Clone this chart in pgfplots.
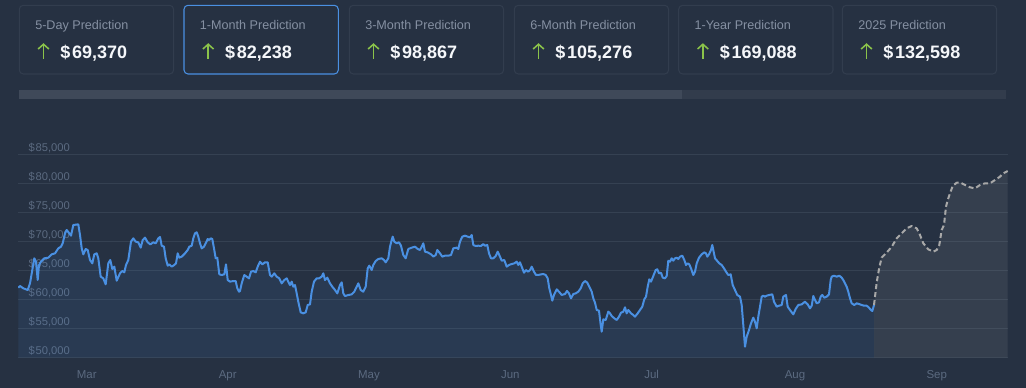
\documentclass[border=0pt]{standalone}
\usepackage{pgfplots}
\pgfplotsset{compat=1.18}
\usepackage{pgfplotstable}
\usetikzlibrary{arrows.meta}
\usepackage{fontspec}
\setmainfont{Liberation Sans}
\definecolor{bg}{HTML}{263142}
\definecolor{cardborder}{HTML}{323D4E}
\definecolor{selborder}{HTML}{4A90E2}
\definecolor{titlegray}{HTML}{8590A2}
\definecolor{upgreen}{HTML}{8BC34A}
\definecolor{valwhite}{HTML}{F5F7FA}
\definecolor{track}{HTML}{323C4C}
\definecolor{thumb}{HTML}{3F4959}
\definecolor{gridc}{HTML}{354152}
\definecolor{ticklab}{HTML}{5B6A80}
\definecolor{histline}{HTML}{4A90E2}
\definecolor{fcline}{HTML}{A8A8A8}
\pagecolor{bg}

\pgfplotstableread{
x v
18.3 62090
20.0 62380
23.3 61980
27.7 61690
30.0 62840
32.3 65140
34.3 67160
36.0 66580
37.7 63420
39.0 66000
41.0 66580
44.3 67160
48.3 67270
51.7 67850
55.0 68020
58.3 68880
61.0 69170
62.7 69750
65.0 71470
66.7 72050
69.3 71470
71.0 71070
73.3 72910
78.3 73030
80.0 71190
81.7 68880
83.3 67850
85.7 68770
87.7 68600
90.0 66870
92.3 66290
94.3 67850
96.7 68020
98.3 67160
100.7 63990
103.3 63700
105.7 62670
108.3 66290
110.3 66870
112.3 65320
114.3 65720
116.7 63300
120.0 64570
122.3 64970
124.3 64740
126.0 66000
128.3 66870
131.0 70040
133.3 70610
135.7 70040
138.3 69920
140.7 69000
142.7 70320
145.0 70730
147.7 69920
150.3 69570
153.3 69920
155.7 69750
158.3 70610
160.0 70840
161.7 69340
164.0 69170
165.7 67160
167.7 65890
169.3 66120
171.7 65720
174.3 66010
176.0 66290
177.7 68020
179.3 67270
181.7 67450
185.0 68020
187.7 68600
189.3 69170
191.7 69340
193.3 70610
195.0 71470
196.7 71650
198.3 70900
200.0 69750
201.7 68880
204.0 69170
205.7 69750
207.7 70490
209.3 70320
210.7 70610
212.3 70490
214.0 68880
215.7 67160
217.3 67270
219.3 64400
221.7 64280
224.3 64400
226.0 66120
227.7 63420
230.0 63130
233.3 63240
235.7 63240
237.3 61980
239.0 61400
240.0 61520
241.7 62840
244.3 64280
246.7 63990
249.0 63700
251.0 64850
253.3 64970
255.7 64740
257.7 65720
260.0 66580
262.3 66120
265.0 66470
267.7 66470
270.0 64280
271.7 63990
274.3 64570
276.7 63990
279.3 63700
281.7 62840
284.3 63410
286.7 63700
288.3 63130
290.0 62550
291.7 63130
293.3 62260
295.0 62550
296.7 61110
298.3 59670
300.7 57830
303.3 57660
305.7 57830
307.7 59100
310.0 59210
311.7 61400
314.0 63130
316.7 63700
319.0 63700
321.7 63990
323.3 64570
325.0 63410
327.3 63820
330.0 62840
332.3 62260
335.0 61690
337.3 61110
340.0 62550
341.7 63010
343.3 61110
345.0 60650
348.3 60820
351.7 60940
354.3 61400
356.7 62260
358.3 62840
360.7 61690
363.3 61400
365.7 62260
367.7 65430
369.3 65890
371.7 65140
373.3 66010
375.7 66700
378.3 67040
381.7 67160
384.0 66870
385.7 66470
388.3 67160
390.0 69170
391.7 70320
392.7 70900
394.3 70035
396.7 69750
399.0 69920
401.0 69340
403.3 67730
405.7 67160
408.3 68770
411.7 69000
415.0 69170
417.7 68770
420.0 68600
421.7 69170
423.3 69750
425.0 68310
427.7 68190
431.0 67850
433.3 67450
435.7 67730
437.3 68600
440.0 68020
442.3 67450
445.0 67620
448.3 67620
451.0 67730
453.3 68880
456.7 69000
458.3 68770
460.0 70040
462.3 70900
465.0 71070
467.7 70900
470.0 70780
471.7 71190
473.3 69460
475.7 69290
478.3 69340
481.0 69290
483.3 69630
485.0 69340
487.3 69460
489.0 68020
491.0 67160
493.3 67160
495.7 67560
497.7 68310
500.0 67450
501.7 66750
504.3 66870
506.7 65720
509.0 66010
511.7 66180
514.3 66290
516.7 66580
518.3 66010
520.0 66470
521.7 65720
524.0 64680
526.0 65140
528.3 64850
530.0 65140
531.7 65720
534.0 64850
536.0 64280
538.3 64280
541.0 64390
543.3 64450
545.7 64280
547.7 63700
549.3 61980
551.0 60830
552.3 59850
554.0 60830
556.7 61800
559.0 61400
561.7 60830
565.0 61000
567.0 61520
569.0 61110
571.0 60250
573.3 61000
575.7 61110
578.3 61400
580.7 61980
582.7 62840
585.0 63240
587.3 62960
589.3 62260
591.7 61400
593.3 60250
595.0 59500
596.7 58240
599.0 58120
600.7 55650
601.7 54490
603.3 56620
605.7 56510
608.3 57950
610.0 57660
611.7 57200
614.3 56800
616.7 56510
619.0 57080
621.0 57770
623.3 57950
625.0 58700
626.7 57660
628.3 58240
631.0 57660
633.3 57370
635.0 57080
637.7 57660
640.0 58240
642.3 58810
644.3 60080
646.0 60540
647.7 62260
649.3 63530
651.0 63130
653.3 64110
655.7 65140
657.3 65260
659.0 64570
661.0 64680
662.7 63820
665.0 63700
666.7 64110
668.3 66750
670.0 66580
671.7 67160
673.3 66750
675.0 67160
676.7 67270
678.3 67040
680.0 67440
682.3 67620
684.3 66870
686.0 66000
687.7 66290
689.3 66120
691.0 65430
693.3 64280
695.0 64850
696.7 66290
699.0 67270
701.7 67850
704.3 68190
706.0 68020
707.3 67440
709.0 67850
711.0 68600
712.3 69460
713.3 68600
715.0 67160
717.3 66700
719.3 66290
721.7 66000
724.0 65430
726.0 64850
728.3 64280
730.7 64390
732.7 62550
735.0 61690
737.3 60820
740.0 60540
741.7 59100
743.3 55640
745.0 51900
746.7 53630
749.0 54780
751.0 55930
753.3 56910
755.0 56220
756.7 55070
758.3 57080
760.0 58810
761.7 60540
763.3 60710
765.0 60540
766.7 60710
769.3 60830
772.3 60940
774.0 59670
776.7 58810
779.0 58980
781.7 59100
783.3 60540
786.0 60830
787.7 58810
790.0 58230
793.3 57490
795.7 58410
798.3 59100
801.7 59210
805.0 59670
807.7 59210
810.0 58520
811.7 58980
813.3 60650
815.0 59960
816.7 59390
819.0 59560
820.7 60540
822.3 60830
824.3 60360
826.7 60540
829.0 60940
830.7 63410
831.7 63990
834.0 64160
836.7 63990
839.3 64160
841.7 63820
843.3 63410
846.7 62260
848.3 61400
850.0 60250
851.7 59390
854.3 59100
856.7 59390
859.0 59270
861.7 59100
864.0 58980
866.7 58980
869.0 58640
871.0 58230
872.3 58060
874.0 59100
}\hist

\pgfplotstableread{
x v
874.0 59100
876.7 63000
879.3 65600
881.7 67300
886.7 68150
891.7 69150
896.7 70610
901.7 71470
906.7 72340
911.7 72740
916.7 72340
920.0 71190
923.3 69750
928.3 68710
933.3 68310
936.7 68600
939.3 69460
941.7 72050
944.0 72910
946.0 76080
947.7 77230
950.0 78380
952.7 79650
956.7 80220
960.7 80220
965.0 79820
970.0 79420
975.0 79240
980.0 79820
985.0 80110
990.0 80110
995.0 80680
1000.0 81260
1003.3 81830
1007.7 82238
}\fc

\newcommand\card[4]{%
  \draw[#4, line width=0.8pt, rounded corners=3pt] (#1,5.3) rectangle ++(154.3,68.7);
  \node[anchor=base west, inner sep=0pt, text=titlegray, font=\fontsize{9.45}{11}\selectfont] at (#1+15.7,30) {#2};
  \draw[upgreen, line width=1.15pt, -{Straight Barb[length=3.6pt, width=8pt, line width=1.15pt]}] (#1+24.2,58.6) -- (#1+24.2,43.2);
  \node[anchor=base west, inner sep=0pt, text=valwhite, font=\bfseries\fontsize{13.5}{15}\selectfont] at (#1+40.9,58.3) {\$\kern1.3pt#3};
}

\begin{document}
\begin{tikzpicture}
\begin{scope}[x=0.75pt,y=-0.75pt]
  \card{19.3}{5-Day Prediction}{69,370}{cardborder}
  \card{184}{1-Month Prediction}{82,238}{selborder}
  \card{349.3}{3-Month Prediction}{98,867}{cardborder}
  \card{514.3}{6-Month Prediction}{105,276}{cardborder}
  \card{678.7}{1-Year Prediction}{169,088}{cardborder}
  \card{842.3}{2025 Prediction}{132,598}{cardborder}
  \fill[track] (19,90) rectangle (1006,99.3);
  \fill[thumb] (19,90) rectangle (681.7,99.3);
\end{scope}
\begin{axis}[
  at={(13.5pt,-268.275pt)}, anchor=south west,
  scale only axis, width=742.5pt, height=152.025pt,
  xmin=18, xmax=1008, ymin=50000, ymax=85000,
  scaled y ticks=false, scaled x ticks=false,
  axis line style={draw=none}, major tick length=0pt,
  set layers,
  ymajorgrids, major grid style={gridc, line width=0.75pt},
  ytick={50000,55000,60000,65000,70000,75000,80000,85000},
  yticklabels={{\$\kern0.6pt50,000},{\$\kern0.6pt55,000},{\$\kern0.6pt60,000},{\$\kern0.6pt65,000},{\$\kern0.6pt70,000},{\$\kern0.6pt75,000},{\$\kern0.6pt80,000},{\$\kern0.6pt85,000}},
  xtick={86.7,227.7,369,510.3,651.7,795,936.7},
  xticklabels={Mar,Apr,May,Jun,Jul,Aug,Sep},
  yticklabel style={anchor=base west, inner sep=0pt, xshift=7.7pt, yshift=2.25pt, text=ticklab, font=\fontsize{8.4}{10}\selectfont},
  xticklabel style={anchor=base, inner sep=0pt, yshift=-15.45pt, text=ticklab, font=\fontsize{8.6}{10}\selectfont},
]
  \addplot[draw=none, fill=histline, fill opacity=0.1] table[x=x,y=v]{\hist} \closedcycle;
  \addplot[draw=none, fill=fcline, fill opacity=0.12] table[x=x,y=v]{\fc} \closedcycle;
  \addplot[histline, line width=1.5pt, line join=round] table[x=x,y=v]{\hist};
  \addplot[fcline, line width=1.5pt, line join=round, dash pattern=on 3.75pt off 2.25pt] table[x=x,y=v]{\fc};
\end{axis}
\pgfresetboundingbox
\path[use as bounding box] (0,0) rectangle (769.5pt,-291pt);
\end{tikzpicture}
\end{document}
